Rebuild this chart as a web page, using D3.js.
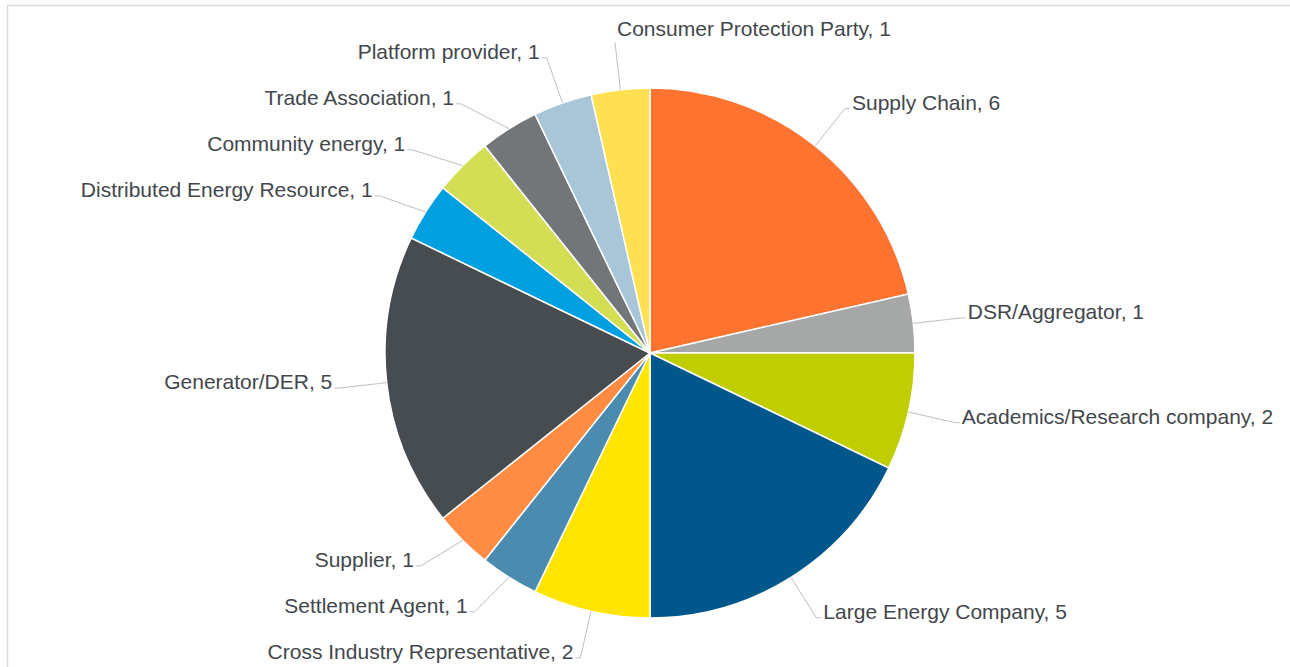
<!DOCTYPE html>
<html>
<head>
<meta charset="utf-8">
<script src="https://cdn.jsdelivr.net/npm/d3@7"></script>
<style>
  body { margin: 0; background: #fff; }
  svg { display: block; }
</style>
</head>
<body>
<div id="chart"></div>
<script>
// chart data, clockwise from 12 o'clock
var categories = ["Supply Chain", "DSR/Aggregator", "Academics/Research company",
  "Large Energy Company", "Cross Industry Representative", "Settlement Agent",
  "Supplier", "Generator/DER", "Distributed Energy Resource", "Community energy",
  "Trade Association", "Platform provider", "Consumer Protection Party"];
var counts = [6, 1, 2, 5, 2, 1, 1, 5, 1, 1, 1, 1, 1];
var colors = ["#FF7331", "#A5A8A6", "#C0CD00", "#00578C", "#FFE500", "#4B8BB0",
  "#FF8C42", "#474C51", "#009FE0", "#D4DE54", "#737679", "#A8C6D8", "#FFE052"];

var width = 1290, height = 667;
var cx = 650, cy = 353, radius = 265;
var labelR = radius * 1.18;
var minGap = 46;

var data = categories.map((c, i) => ({name: c, value: counts[i], color: colors[i]}));

var svg = d3.select("#chart")
  .append("svg")
    .attr("width", width)
    .attr("height", height);

// chart area border
svg.append("rect")
  .attr("x", 7.5)
  .attr("y", 5.5)
  .attr("width", width + 20)
  .attr("height", height + 20)
  .attr("fill", "none")
  .attr("stroke", "#D9D9D9")
  .attr("stroke-width", 1.5);

var g = svg.append("g")
  .attr("transform", `translate(${cx}, ${cy})`);

var pie = d3.pie()
  .sort(null)
  .value(d => d.value);

var arc = d3.arc()
  .innerRadius(0)
  .outerRadius(radius);

var arcs = pie(data);

// slices
g.selectAll("path.slice")
  .data(arcs)
  .join("path")
    .attr("class", "slice")
    .attr("d", arc)
    .attr("fill", d => d.data.color)
    .attr("stroke", "#fff")
    .attr("stroke-width", 1.5);

// label anchor points along each slice's middle angle
var labels = arcs.map(function(d) {
  var a = (d.startAngle + d.endAngle) / 2;
  var s = Math.sin(a), c = Math.cos(a);
  var side = Math.abs(s) < 0.15 && c > 0 ? "top" : (s >= 0 ? "right" : "left");
  return {
    d: d,
    side: side,
    sx: radius * s, sy: -radius * c,
    ex: labelR * s, ey: -labelR * c
  };
});

// spread crowded labels on each side: push down in upper half, up in lower half
["left", "right"].forEach(function(side) {
  var sign = side === "left" ? -1 : 1;
  var upper = labels.filter(l => l.side === side && l.ey < 0).sort((a, b) => a.ey - b.ey);
  var lower = labels.filter(l => l.side === side && l.ey >= 0).sort((a, b) => b.ey - a.ey);
  for (var i = 1; i < upper.length; i++) {
    if (upper[i].ey < upper[i - 1].ey + minGap) upper[i].ey = upper[i - 1].ey + minGap;
  }
  for (var j = 1; j < lower.length; j++) {
    if (lower[j].ey > lower[j - 1].ey - minGap) lower[j].ey = lower[j - 1].ey - minGap;
  }
  upper.concat(lower).forEach(function(l) {
    var dy = Math.min(Math.abs(l.ey), labelR - 1);
    l.ex = sign * Math.sqrt(labelR * labelR - dy * dy);
  });
});

// leader lines
g.selectAll("polyline.leader")
  .data(labels)
  .join("polyline")
    .attr("class", "leader")
    .attr("points", function(l) {
      var tail = l.side === "left" ? -5 : (l.side === "right" ? 5 : 0);
      return [[l.sx, l.sy], [l.ex, l.ey], [l.ex + tail, l.ey]].map(p => p.join(",")).join(" ");
    })
    .attr("fill", "none")
    .attr("stroke", "#BFBFBF")
    .attr("stroke-width", 1);

// label texts
g.selectAll("text.label")
  .data(labels)
  .join("text")
    .attr("class", "label")
    .attr("x", l => l.side === "left" ? l.ex - 7 : (l.side === "right" ? l.ex + 7 : l.ex + 2))
    .attr("y", l => l.side === "top" ? l.ey - 6 : l.ey + 1)
    .attr("text-anchor", l => l.side === "left" ? "end" : "start")
    .attr("font-family", "'Liberation Sans', Arial, sans-serif")
    .attr("font-size", "21px")
    .attr("fill", "#43474C")
    .text(l => `${l.d.data.name}, ${l.d.data.value}`);
</script>
</body>
</html>
